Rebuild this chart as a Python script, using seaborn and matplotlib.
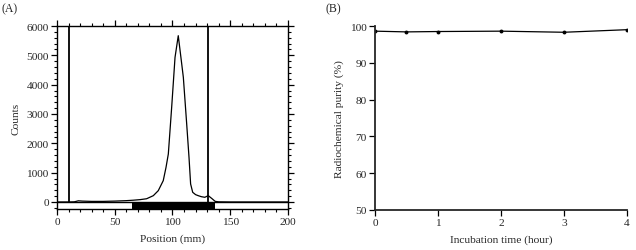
import numpy as np
import pandas as pd
import seaborn as sns
import matplotlib.pyplot as plt
from matplotlib.ticker import MultipleLocator

# (A) radio-TLC scan
position_mm = [0, 10, 15, 18.5, 22, 30, 40, 50, 60, 66, 72, 77.6, 83.4, 87.7, 92, 94.4,
               96.4, 99.3, 102.2, 105, 108, 109.4, 112.3, 114.3, 115.7, 117.5, 120,
               122.3, 125, 128, 131, 134, 137, 140, 150, 170, 200]
counts = [0, 0, 5, 40, 30, 20, 20, 30, 45, 60, 80, 110, 215, 386, 727, 1180,
          1636, 3230, 4930, 5670, 4705, 4250, 2660, 1524, 614, 330, 250,
          215, 180, 160, 215, 120, 20, 5, 0, 0, 0]
roi_lines = [10.6, 130.5]
strip_spot = (65, 137)

# (B) stability over time
time_h = [0, 0.5, 1, 2, 3, 4]
purity = [98.6, 98.4, 98.5, 98.6, 98.3, 99.0]

sns.set_style("ticks")
plt.rcParams['font.family'] = ['Liberation Serif', 'DejaVu Serif']
plt.rcParams['axes.linewidth'] = 1.0
fs = 8.2

fig = plt.figure(figsize=(6.36, 2.51), dpi=100)
axA = fig.add_axes([0.0896, 0.1633, 0.3632, 0.7291])
axB = fig.add_axes([0.5896, 0.1594, 0.3962, 0.7330])

# ---- panel A
dfA = pd.DataFrame({'Position': position_mm, 'Counts': counts})
sns.lineplot(data=dfA, x='Position', y='Counts', ax=axA, color='black', linewidth=0.9)
axA.axhline(0, color='black', linewidth=1.0)
axA.vlines(roi_lines, 0, 6000, color='black', linewidth=1.3)
axA.fill_between(list(strip_spot), -240, 0, color='black', linewidth=0)
axA.set_xlim(0, 200)
axA.set_ylim(-240, 6000)
axA.xaxis.set_major_locator(MultipleLocator(50))
axA.xaxis.set_minor_locator(MultipleLocator(10))
axA.set_yticks([0, 1000, 2000, 3000, 4000, 5000, 6000])
axA.yaxis.set_minor_locator(MultipleLocator(200))
axA.tick_params(which='both', direction='out', top=True, right=True, color='black',
                labelsize=fs, pad=2)
axA.tick_params(which='major', length=4, width=0.9)
axA.tick_params(which='minor', length=2.5, width=0.8)
axA.set_xlabel('Position (mm)', fontsize=fs, labelpad=5)
axA.set_ylabel('Counts', fontsize=fs, labelpad=4)
for s in axA.spines.values():
    s.set_color('black')

# ---- panel B
dfB = pd.DataFrame({'Time': time_h, 'Purity': purity})
sns.lineplot(data=dfB, x='Time', y='Purity', ax=axB, color='black', linewidth=0.9,
             marker='o', markersize=2.8, markeredgewidth=0)
axB.set_xlim(0, 4)
axB.set_ylim(50, 100)
axB.set_xticks([0, 1, 2, 3, 4])
axB.set_yticks([50, 60, 70, 80, 90, 100])
axB.tick_params(direction='out', length=4, width=0.9, color='black', labelsize=fs, pad=2)
sns.despine(ax=axB)
axB.spines['left'].set_linewidth(1.3)
axB.spines['bottom'].set_linewidth(1.3)
axB.set_xlabel('Incubation time (hour)', fontsize=fs, labelpad=5)
axB.set_ylabel('Radiochemical purity (%)', fontsize=fs, labelpad=4)

fig.text(0.003, 0.985, '(A)', fontsize=8.5, va='top', ha='left')
fig.text(0.512, 0.985, '(B)', fontsize=8.5, va='top', ha='left')

fig.savefig('out.png', dpi=100)
